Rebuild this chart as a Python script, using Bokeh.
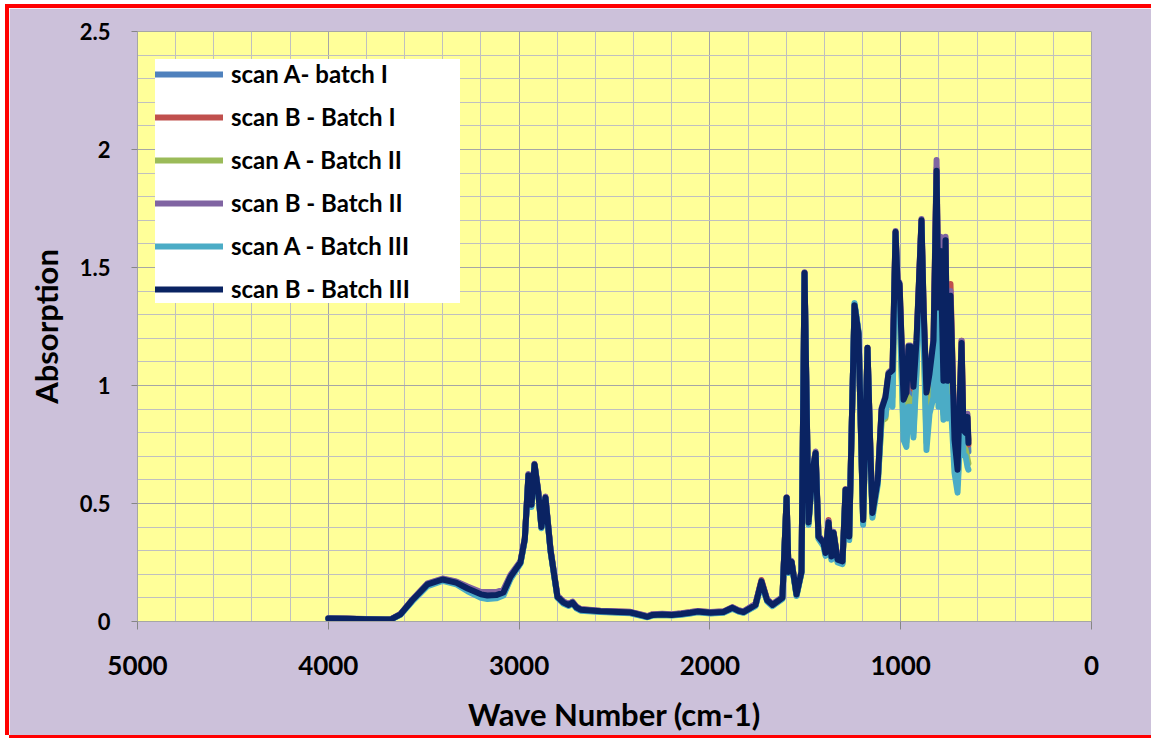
from bokeh.plotting import figure
from bokeh.models import Range1d, FixedTicker, Legend, LegendItem
from bokeh.embed import file_html
from bokeh.resources import INLINE

# ---------------- data ----------------
wavenumber = [4000, 3900, 3800, 3700, 3674, 3622, 3560, 3480, 3401, 3330,
              3270, 3200, 3166, 3120, 3082, 3045, 2993, 2970, 2951, 2935,
              2919, 2900, 2883, 2862, 2835, 2799, 2767, 2740, 2720, 2700,
              2678, 2573, 2416, 2350, 2327, 2300, 2250, 2200, 2150, 2102,
              2065, 1997, 1929, 1882, 1850, 1824, 1761, 1730, 1700, 1672,
              1620, 1598, 1588, 1572, 1546, 1520, 1504, 1483, 1462, 1446,
              1431, 1405, 1394, 1378, 1363, 1352, 1331, 1305, 1289, 1270,
              1242, 1221, 1197, 1174, 1158, 1148, 1120, 1100, 1080, 1064,
              1043, 1027, 1017, 1006, 985, 970, 959, 949, 933, 917,
              891, 880, 865, 849, 828, 812, 802, 791, 776, 765,
              755, 739, 718, 702, 681, 671, 660, 650, 645]

scanA_batchI = [0.013, 0.012, 0.010, 0.008, 0.008, 0.030, 0.089, 0.155, 0.176, 0.163,
                0.136, 0.110, 0.105, 0.107, 0.118, 0.186, 0.248, 0.348, 0.619, 0.492,
                0.663, 0.548, 0.398, 0.523, 0.298, 0.103, 0.078, 0.069, 0.079, 0.059,
                0.049, 0.042, 0.037, 0.024, 0.020, 0.027, 0.029, 0.027, 0.031, 0.036,
                0.041, 0.036, 0.039, 0.057, 0.044, 0.039, 0.068, 0.168, 0.088, 0.068,
                0.098, 0.523, 0.208, 0.251, 0.112, 0.208, 1.474, 0.418, 0.637, 0.710,
                0.357, 0.328, 0.286, 0.418, 0.270, 0.372, 0.258, 0.251, 0.555, 0.355,
                1.342, 1.222, 0.425, 1.157, 0.695, 0.455, 0.595, 0.880, 0.920, 1.020,
                1.010, 1.648, 1.430, 1.400, 0.880, 0.900, 1.080, 1.080, 0.930, 1.150,
                1.695, 1.300, 0.880, 0.990, 1.120, 1.900, 1.200, 1.450, 0.960, 1.500,
                0.960, 1.250, 0.720, 0.610, 1.100, 0.770, 0.760, 0.800, 0.720]

scanB_batchI = [0.013, 0.012, 0.010, 0.008, 0.008, 0.031, 0.091, 0.160, 0.180, 0.168,
                0.144, 0.120, 0.118, 0.118, 0.128, 0.194, 0.252, 0.352, 0.622, 0.497,
                0.666, 0.552, 0.402, 0.527, 0.302, 0.108, 0.083, 0.072, 0.082, 0.062,
                0.052, 0.045, 0.040, 0.027, 0.022, 0.030, 0.032, 0.030, 0.034, 0.039,
                0.044, 0.039, 0.042, 0.060, 0.047, 0.042, 0.073, 0.176, 0.093, 0.072,
                0.102, 0.525, 0.212, 0.255, 0.116, 0.212, 1.478, 0.423, 0.642, 0.716,
                0.364, 0.336, 0.292, 0.430, 0.278, 0.378, 0.265, 0.258, 0.560, 0.363,
                1.338, 1.218, 0.432, 1.158, 0.702, 0.462, 0.600, 0.895, 0.940, 1.040,
                1.050, 1.648, 1.440, 1.420, 0.920, 0.955, 1.150, 1.150, 0.985, 1.180,
                1.698, 1.320, 0.950, 1.040, 1.180, 1.920, 1.300, 1.590, 1.010, 1.620,
                1.010, 1.430, 0.760, 0.640, 1.190, 0.800, 0.790, 0.860, 0.750]

scanA_batchII = [0.013, 0.012, 0.010, 0.008, 0.008, 0.029, 0.088, 0.153, 0.175, 0.162,
                 0.133, 0.106, 0.100, 0.103, 0.115, 0.184, 0.247, 0.347, 0.618, 0.490,
                 0.662, 0.547, 0.397, 0.522, 0.297, 0.102, 0.077, 0.068, 0.078, 0.058,
                 0.048, 0.041, 0.036, 0.023, 0.019, 0.026, 0.028, 0.026, 0.030, 0.035,
                 0.040, 0.035, 0.038, 0.056, 0.043, 0.038, 0.067, 0.165, 0.087, 0.067,
                 0.097, 0.522, 0.207, 0.250, 0.110, 0.207, 1.472, 0.415, 0.635, 0.708,
                 0.355, 0.325, 0.283, 0.415, 0.268, 0.370, 0.255, 0.248, 0.553, 0.350,
                 1.345, 1.225, 0.420, 1.155, 0.690, 0.450, 0.590, 0.850, 0.860, 1.000,
                 0.950, 1.645, 1.410, 1.360, 0.800, 0.760, 0.950, 0.940, 0.800, 1.080,
                 1.690, 1.250, 0.760, 0.910, 1.000, 1.880, 0.980, 1.200, 0.880, 1.250,
                 0.900, 1.050, 0.660, 0.580, 0.950, 0.740, 0.730, 0.690, 0.670]

scanB_batchII = [0.014, 0.013, 0.011, 0.009, 0.009, 0.032, 0.093, 0.162, 0.182, 0.170,
                 0.148, 0.125, 0.125, 0.125, 0.135, 0.198, 0.255, 0.355, 0.625, 0.500,
                 0.668, 0.555, 0.405, 0.530, 0.305, 0.110, 0.085, 0.074, 0.084, 0.064,
                 0.053, 0.046, 0.041, 0.028, 0.023, 0.031, 0.033, 0.031, 0.035, 0.040,
                 0.045, 0.040, 0.043, 0.061, 0.048, 0.043, 0.075, 0.172, 0.094, 0.074,
                 0.104, 0.526, 0.214, 0.257, 0.118, 0.214, 1.480, 0.425, 0.645, 0.720,
                 0.365, 0.338, 0.295, 0.425, 0.280, 0.380, 0.267, 0.260, 0.560, 0.365,
                 1.340, 1.220, 0.435, 1.160, 0.705, 0.465, 0.605, 0.905, 0.955, 1.055,
                 1.070, 1.655, 1.450, 1.435, 0.950, 0.980, 1.170, 1.170, 1.000, 1.195,
                 1.705, 1.340, 0.980, 1.060, 1.200, 1.955, 1.340, 1.630, 1.030, 1.630,
                 1.030, 1.400, 0.780, 0.650, 1.190, 0.820, 0.810, 0.880, 0.770]

scanA_batchIII = [0.012, 0.011, 0.009, 0.007, 0.007, 0.028, 0.085, 0.150, 0.172, 0.158,
                  0.128, 0.100, 0.095, 0.098, 0.110, 0.180, 0.245, 0.345, 0.615, 0.485,
                  0.660, 0.545, 0.395, 0.520, 0.295, 0.100, 0.075, 0.066, 0.076, 0.056,
                  0.046, 0.040, 0.035, 0.022, 0.018, 0.025, 0.027, 0.025, 0.029, 0.034,
                  0.039, 0.034, 0.037, 0.054, 0.042, 0.037, 0.065, 0.160, 0.085, 0.065,
                  0.095, 0.520, 0.205, 0.248, 0.108, 0.205, 1.470, 0.410, 0.630, 0.705,
                  0.350, 0.320, 0.278, 0.410, 0.262, 0.365, 0.250, 0.243, 0.550, 0.345,
                  1.350, 1.230, 0.410, 1.150, 0.680, 0.440, 0.580, 0.860, 0.870, 0.980,
                  0.910, 1.640, 1.400, 1.330, 0.770, 0.740, 0.910, 0.910, 0.780, 1.050,
                  1.680, 1.200, 0.727, 0.880, 0.950, 1.850, 0.910, 1.100, 0.855, 1.150,
                  0.860, 0.950, 0.630, 0.546, 0.900, 0.710, 0.700, 0.655, 0.643]

scanB_batchIII = [0.013, 0.012, 0.010, 0.008, 0.008, 0.030, 0.090, 0.157, 0.178, 0.165,
                  0.140, 0.115, 0.110, 0.112, 0.123, 0.190, 0.250, 0.350, 0.620, 0.495,
                  0.665, 0.550, 0.400, 0.525, 0.300, 0.105, 0.080, 0.070, 0.080, 0.060,
                  0.050, 0.043, 0.038, 0.025, 0.020, 0.028, 0.030, 0.028, 0.032, 0.037,
                  0.042, 0.037, 0.040, 0.058, 0.045, 0.040, 0.070, 0.170, 0.090, 0.070,
                  0.100, 0.524, 0.210, 0.253, 0.114, 0.210, 1.477, 0.420, 0.640, 0.714,
                  0.360, 0.333, 0.290, 0.420, 0.275, 0.376, 0.262, 0.255, 0.558, 0.360,
                  1.340, 1.220, 0.430, 1.160, 0.700, 0.460, 0.600, 0.900, 0.950, 1.050,
                  1.065, 1.650, 1.447, 1.430, 0.940, 0.970, 1.165, 1.165, 0.995, 1.190,
                  1.700, 1.330, 0.970, 1.050, 1.190, 1.910, 1.330, 1.570, 1.020, 1.615,
                  1.020, 1.380, 0.770, 0.643, 1.180, 0.810, 0.800, 0.867, 0.757]

series_names = ["scan A- batch I", "scan B - Batch I", "scan A - Batch II",
                "scan B - Batch II", "scan A - Batch III", "scan B - Batch III"]
series_values = [scanA_batchI, scanB_batchI, scanA_batchII,
                 scanB_batchII, scanA_batchIII, scanB_batchIII]
series_colors = ["#4F81BD", "#C0504D", "#9BBB59", "#8064A2", "#4BACC6", "#0A2362"]

x_ticks = [5000, 4000, 3000, 2000, 1000, 0]
x_tick_labels = ["5000", "4000", "3000", "2000", "1000", "0"]
x_minor = [4800, 4600, 4400, 4200, 3800, 3600, 3400, 3200, 2800, 2600, 2400, 2200,
           1800, 1600, 1400, 1200, 800, 600, 400, 200]
y_ticks = [0, 0.5, 1, 1.5, 2, 2.5]
y_tick_labels = ["0", "0.5", "1", "1.5", "2", "2.5"]
y_minor = [0.1, 0.2, 0.3, 0.4, 0.6, 0.7, 0.8, 0.9, 1.1, 1.2, 1.3, 1.4,
           1.6, 1.7, 1.8, 1.9, 2.1, 2.2, 2.3, 2.4]

FONT = "Lato"

p = figure(width=1142, height=727,
           x_range=Range1d(5000, 0), y_range=Range1d(0, 2.5),
           output_backend="svg", toolbar_location=None,
           min_border_left=128, min_border_right=60,
           min_border_top=23, min_border_bottom=113,
           background_fill_color="#FFFF99", border_fill_color="#CCC1DA",
           outline_line_color="#A6A6A6", outline_line_width=1)
p.styles = {"margin-left": "9px", "margin-top": "8px",
            "box-shadow": "-4px 0 0 0 #FF0000, 0 -4px 0 0 #FF0000, 0 4px 0 0 #FF0000, -4px -4px 0 0 #FF0000"}

xt = FixedTicker(ticks=x_ticks, minor_ticks=x_minor)
yt = FixedTicker(ticks=y_ticks, minor_ticks=y_minor)
p.xaxis.ticker = xt
p.yaxis.ticker = yt
p.xgrid.ticker = xt
p.ygrid.ticker = yt
p.xaxis.major_label_overrides = dict(zip(x_ticks, x_tick_labels))
p.yaxis.major_label_overrides = dict(zip(y_ticks, y_tick_labels))

for g in (p.xgrid, p.ygrid):
    g.grid_line_color = "#A6A6A6"
    g.grid_line_width = 1
    g.minor_grid_line_color = "#C0C0C0"
    g.minor_grid_line_width = 1

for ax in (p.xaxis, p.yaxis):
    ax.axis_line_color = "#A6A6A6"
    ax.major_tick_line_color = "#868686"
    ax.minor_tick_line_color = None
    ax.major_tick_in = 0
    ax.major_label_text_font = FONT
    ax.major_label_text_font_style = "bold"
    ax.major_label_text_color = "#000000"
    ax.axis_label_text_font = FONT
    ax.axis_label_text_font_style = "bold"
    ax.axis_label_text_color = "#000000"
    ax.axis_label_text_font_size = "31px"

p.xaxis.major_tick_out = 8
p.xaxis.major_label_text_font_size = "26px"
p.xaxis.major_label_standoff = 26
p.xaxis.axis_label = "Wave Number (cm-1)"
p.xaxis.axis_label_standoff = 17

p.yaxis.major_tick_out = 6
p.yaxis.major_label_text_font_size = "22px"
p.yaxis.major_label_standoff = 21
p.yaxis.axis_label = "Absorption"
p.yaxis.axis_label_standoff = 12

items = []
for name, vals, color in zip(series_names, series_values, series_colors):
    r = p.line(wavenumber, vals, line_color=color, line_width=6,
               line_join="round", line_cap="round")
    items.append(LegendItem(label=name, renderers=[r]))

legend = Legend(items=items, location=(18, 318),
                background_fill_color="#FFFFFF", background_fill_alpha=1.0,
                border_line_color=None, padding=6, margin=0,
                spacing=14, glyph_height=20, label_height=20,
                glyph_width=68, label_standoff=8, label_width=229,
                label_text_font=FONT, label_text_font_style="bold",
                label_text_font_size="24px", label_text_color="#000000")
p.add_layout(legend)

open("out.html", "w").write(file_html(p, INLINE))
